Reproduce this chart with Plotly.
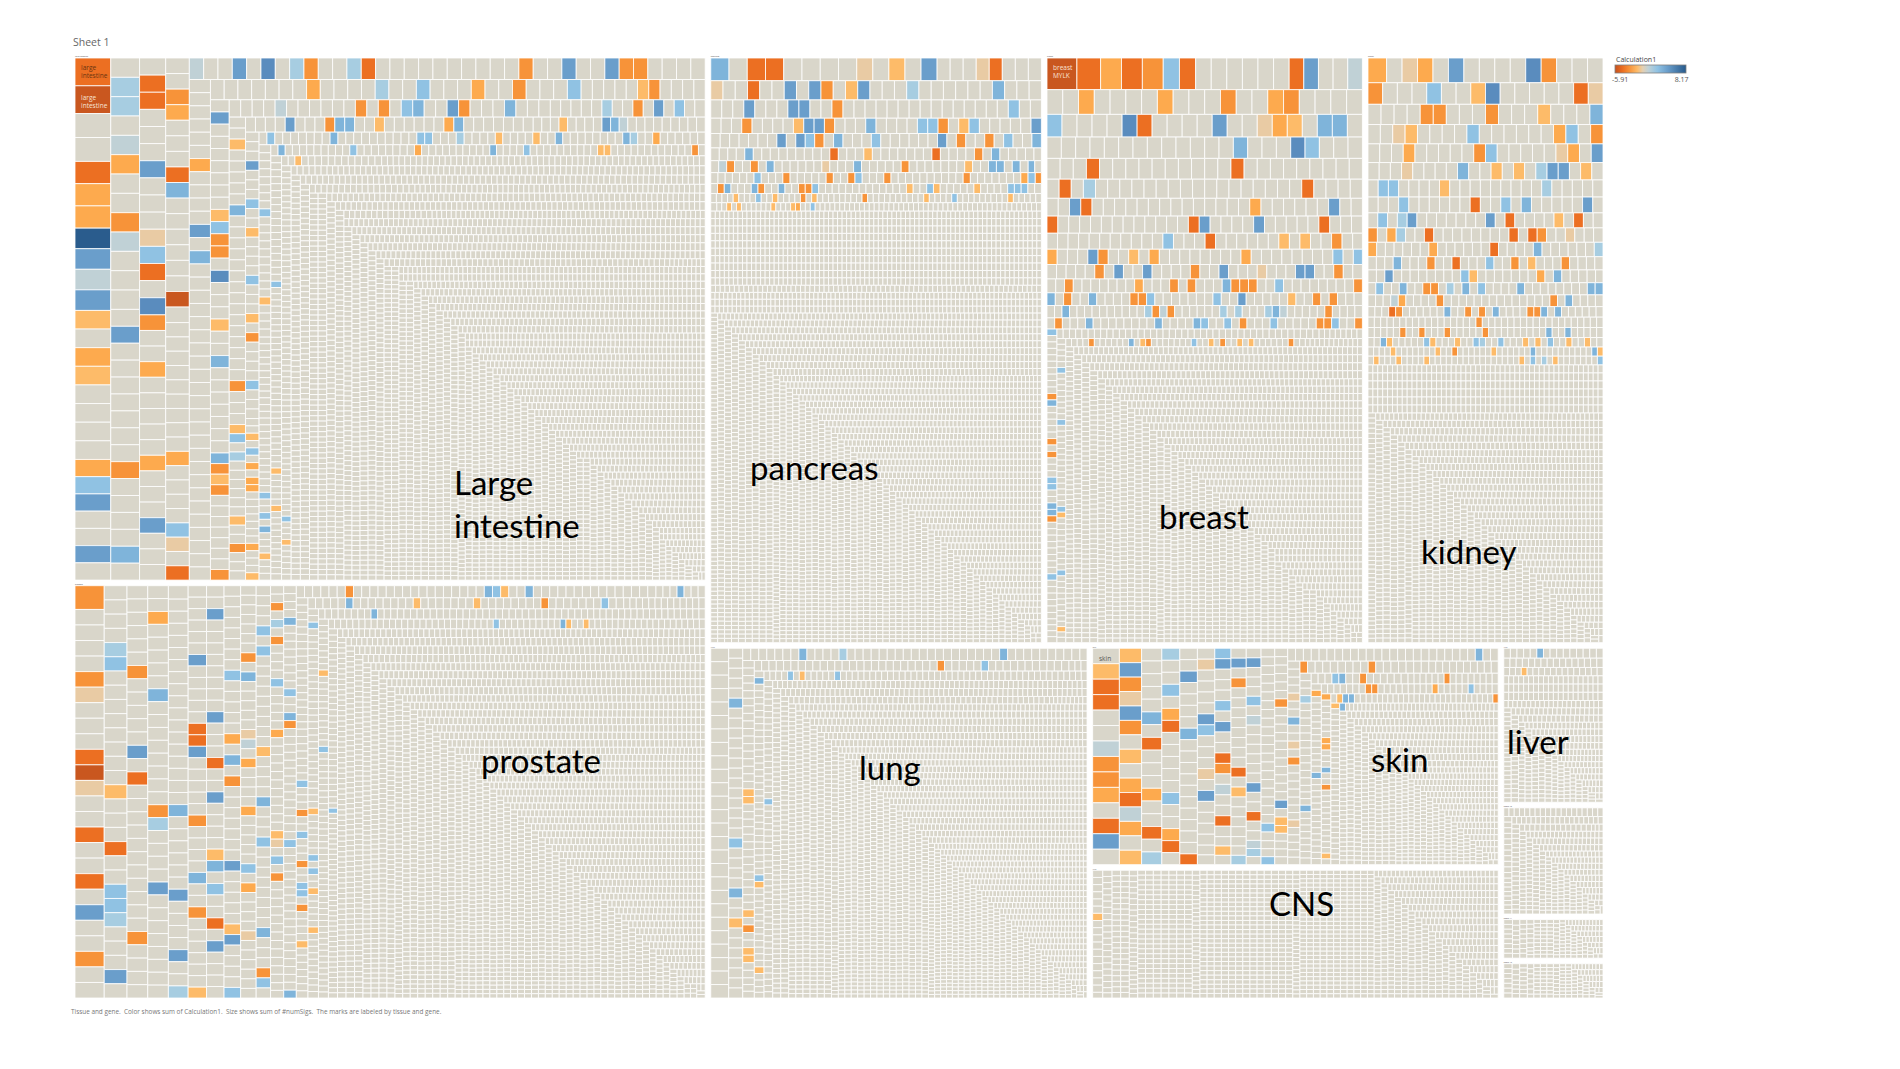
import re
import plotly.graph_objects as go

# Each entry: (numSigs of the genes in this run, colour code string).
# In a code string a number is a run of neutral genes, a letter is one coloured gene.
large_intestine = [
    (100, "ba"), (86, "2"), (80, "bdd"), (74, "mkgk"), (67, "e1de4"), (62, "dik2k1"),
    (56, "1hh1gd2cg3"), (49, "1k7c4j1"), (45, "1bb3k3fib1l"), (41, "c2d5d3k3"),
    (37, "2cd3bj6a1"), (34, "9d4if1b"), (31, "g2k1l1hc2hb10c2k2kcc4"),
    (28, "6d4k1j31d4h2i3d2c3i"), (23, "5ec5k7eicc1l3e2j7"), (20, "jcec7c4g6c1c1ij2kc3j3"),
    (18, "5h2c1k1i4e5j15c3"), (15, "ei1h6e2c7k3cjj2e6dj7"), (13, "3e4kjg12k3i2e4i3e1c4i3"),
    (10, "2e1i1d1dd7d3e1i7j10ii3h3"), (9.5, "1e4e2j8jh2d14i10e4"), (8, "23i2i1j3e4j9i8d2"),
    (7.5, "8j4i10ee12c19"), (6.7, "i29e5e13e12"), (5.8, "66"), (5.6, "50i3e12"),
    (5.2, "300"), (4.6, "500"), (4, "800"), (3.4, "1200"), (3, "1938"), (2.6, "100"),
]
prostate = [
    (70, "c"), (45.8, "4cf3baf2b2b1k2c2"), (32.7, "4hi8e3b2iih3k1"), (27.8, "6c5k1b11c4"),
    (26.8, "2d5j8ch4k9"), (24.1, "17j6k4k2h"), (21.3, "6k5bbk5c4j2c6"),
    (20.2, "e2k8k3b2k4ej1i2b1k4"), (17.7, "8i5d1j1c7k5ek4i"), (15, "7c1j5fg1d4d5i1d4f6"),
    (14.6, "4i1i9e4j3i8j3ci1"), (11.2, "2c1h1c4i5d11ef1i1c12"), (10.1, "6j8i2jc14i15"),
    (10, "3j6c16jie2j15"), (8.6, "3j28i3c2i3c2ii1c4e"), (8.4, "12j8e7e8c7i2"),
    (7, "15i27e6i1i2e1"), (6.8, "4e18j31"), (6.4, "28e11i17"), (6, "50i9"),
    (5.7, "1je2e48"), (4.7, "1i62"),
    (4.5, "400"), (4, "600"), (3.5, "900"), (3, "2071"),
]
pancreas = [
    (42, "j1bb4"), (37, "f1e1k"), (30, "3fb3"), (23.8, "f2b2k1kc1ek3h6j3"),
    (20.4, "3k3kk2c15i2"), (16, "3c4ekkc3j4iic1ei5k"), (13.8, "7k1kic1j3i6k1c2c1i2j"),
    (11, "4j9b3e7b4c1j4"), (9.6, "2gc2c1j6f3j5c7e2jj1j1"), (8, "j7i3c5c2ci3c10c7di"),
    (6.8, "c1cj3jc2j2cci13e2ie5e4iii2"), (5.2, "4e3i2e4c1e8c10e4i9e6"), (4.2, "2e1e6e3ed2i46"),
    (3.4, "800"), (3, "1500"), (2.6, "2779"),
]
breast = [
    (96, "a"), (76, "b"), (67, "dbc"), (52, "ib"), (50, "6"), (47, "bk2g"),
    (39.5, "2d4d3c2dc4"), (34.5, "i4lb4k2fde1jj1"), (31, "13j3li3"), (27.7, "3b10b9"),
    (23.5, "1b1h17b4"), (20.3, "2kb14d6k2"), (18.9, "b12bk4k5b3"), (17.1, "11i3b6e1e2c1"),
    (15.8, "1d3kc2e1d8d8i1"), (14, "i5c1k2k4c2k3f3kk2c2"), (12.3, "2c7d3c1c3jccc2i8c"),
    (10.7, "j1c2j4cci7i2k5e2c1c3"), (9.4, "2j10hcgc6h1h3hjg5c4"),
    (8.7, "1c3j8j4ji2i1c3i5cci2c"), (6.5, "i9cj5c1c3ii2jjc8i6"), (6, "46"),
    (5.2, "13i8i14ie9i6"), (4.8, "3e6c6j1ec7i2e1c2e1e6c2"),
    (4, "500"), (3.4, "800"), (3, "1406"),
]
kidney = [
    (47, "d"), (39, "1fd1k4lc3"), (32.3, "c3i2el5bf"), (26.9, "4cc3c3e3j"), (24.4, "2fe4i6di1c"),
    (22.4, "3d5ci5fd1k"), (19.8, "3f4j2e1e1hkk1e1"), (17.8, "1ii4e9h5"), (16.5, "3i6b2i1j5k1"),
    (15, "1i1hk7k1b4e1b2"), (13.8, "c1dh2b8b1bc2f3"), (12.8, "d6d6b4j6h"),
    (11.3, "3j3c2b3i2c1e3c3"), (11, "3k8ie7d1j4"), (9.7, "2i2j2cc1h1j1i4j8jj"),
    (9.1, "3gd4c14c1j4"), (7.4, "3bc6j2c1c1j4ccj1j6"), (6.7, "17c19"), (6.5, "5c2c3c5c9j2j5"),
    (6, "2je5ie3e2ih2i3e1e1i2e2e2"), (5.2, "4e7e2c6e6j10je"), (5, "1e3e4e16e1i1h1e7i"),
    (4, "300"), (3.4, "500"), (3, "1251"),
]
lung = [
    (24.5, "26"), (14.3, "5j13i4j2e7"), (10, "7j4h19j9"), (8.9, "18ee14e1c2ee2"),
    (7.9, "28c5i11"), (6.5, "4j29ie12e2"), (5.6, "6i1e5i38"), (5.5, "23i31"),
    (4, "300"), (3.2, "800"), (2.6, "1500"), (2.2, "1131"),
]
skin = [
    (42.4, "1ebb2gccd1bk1"), (32.9, "ekcfkc1e1dbgd1e"), (26.4, "5j1b3d2b1h"),
    (22.2, "h2i1db5i2db1"), (20.6, "2k4j10"), (19.5, "b1f4ki3f1k4"),
    (17.4, "2ik3i1k2bc1g2b1"), (15.5, "1e2k1c8b1e4"), (14.6, "2h1k3i1g6k2b2"),
    (12.3, "gh21i1"), (11.2, "2i6c11k1e"), (10.4, "e24"), (10.1, "4j6f2j2f1c5"),
    (9.4, "2f5c8c7"), (8.6, "13h11"), (7.6, "3j11ij2c6"), (6.6, "6c9d10"),
    (6.4, "2j21cc1"), (6.1, "8d5i4d6dd"), (5.6, "3j2c11e2ejj3"), (5, "23ce3"), (4.8, "26j"),
    (3.4, "200"), (3, "300"), (2.4, "434"),
]
cns = [(7.6, "6e10"), (6, "20"), (5, "60"), (4, "200"), (3.4, "400"), (3, "899")]
liver = [(7.1, "5j9"), (6.2, "16"), (5.3, "3e13"), (4.4, "60"), (3.6, "100"), (3, "150"), (2.5, "112")]
tissue_a = [(5, "30"), (4, "60"), (3, "120"), (2.5, "162")]
tissue_b = [(5, "10"), (4, "20"), (3, "40"), (2.4, "86")]
tissue_c = [(5, "10"), (4, "18"), (3, "35"), (2.5, "74")]

tissue_names = ["large intestine", "prostate", "pancreas", "breast", "kidney", "lung",
                "skin", "CNS", "liver", "tissue 10", "tissue 11", "tissue 12"]
tissue_runs = [large_intestine, prostate, pancreas, breast, kidney, lung,
               skin, cns, liver, tissue_a, tissue_b, tissue_c]

# Colour of each code, in Calculation1 order from most negative to most positive
code_colors = {"a": "#c9571f", "b": "#ec6f22", "c": "#f79339", "d": "#fdaa4e", "e": "#fdbb69",
               "f": "#e9cba4", ".": "#d9d6ca", "g": "#c0d1d6", "h": "#a7cde1", "i": "#90c2e3",
               "j": "#7fb4da", "k": "#6a9ecb", "l": "#5a8cbe", "m": "#2a5c8d"}
calc_min, calc_max = -5.91, 8.17

ids, parents, values, colors = [], [], [], []
for name, runs in zip(tissue_names, tissue_runs):
    ids.append(name); parents.append(""); values.append(0); colors.append("#ffffff")
    n = 0
    for size, code in runs:
        for tok in re.findall(r"\d+|[a-m]", code):
            letters = "." * int(tok) if tok.isdigit() else tok
            for ch in letters:
                n += 1
                ids.append(f"{name} {n}"); parents.append(name)
                values.append(size); colors.append(code_colors[ch])

W, H = 1900, 1069
PAD = 2.8
L, R, T, B = 75, 1603, 58, 998
px = lambda x: x / W
py = lambda y: 1 - y / H

fig = go.Figure()
fig.add_trace(go.Treemap(
    ids=ids, labels=ids, parents=parents, values=values, branchvalues="remainder",
    sort=False, textinfo="none", hoverinfo="skip",
    tiling=dict(packing="squarify", squarifyratio=1.618, pad=0),
    pathbar=dict(visible=False),
    marker=dict(colors=colors, depthfade=False,
                line=dict(color="#ffffff", width=0.8),
                pad=dict(t=PAD, l=PAD, r=PAD, b=PAD)),
    domain=dict(x=[px(L - 2 * PAD), px(R + 2 * PAD)], y=[py(B + 2 * PAD), py(T - 2 * PAD)]),
))

scale_pts = [(-5.91, "#c4511e"), (-4.5, "#ea6c20"), (-3.2, "#f68f36"), (-1.5, "#fdbb69"),
             (-0.4, "#e3d0b4"), (0.7, "#c0d1d6"), (2.5, "#90c2e3"), (4.5, "#6a9ecb"), (8.17, "#275a8c")]
fig.add_trace(go.Scatter(
    x=[None], y=[None], mode="markers", hoverinfo="skip", showlegend=False,
    marker=dict(color=[0], cmin=calc_min, cmax=calc_max, showscale=True,
                colorscale=[[(v - calc_min) / (calc_max - calc_min), c] for v, c in scale_pts],
                colorbar=dict(orientation="h", x=px(1615), xanchor="left", y=py(65), yanchor="top",
                              lenmode="pixels", len=71, thicknessmode="pixels", thickness=8,
                              xpad=0, ypad=0, outlinecolor="#7f7f7f", outlinewidth=0.8,
                              tickmode="array", tickvals=[-4.9, 7.3], ticktext=["-5.91", "8.17"],
                              ticks="", tickfont=dict(family="Open Sans", size=7, color="#555555"))),
))

big = dict(family="Lato", size=33, color="#000000")
big_labels = [("Large<br>intestine", 452, 503), ("pancreas", 748, 467), ("breast", 1157, 516),
              ("kidney", 1419, 551), ("prostate", 479, 760), ("lung", 857, 767), ("skin", 1369, 759),
              ("CNS", 1267, 903), ("liver", 1505, 741)]
anns = [dict(text=t, x=px(x), y=py(y), xref="paper", yref="paper", xanchor="left", yanchor="middle",
             showarrow=False, align="left", font=big) for t, x, y in big_labels]
small_labels = [("large<br>intestine", 79, 71.5, "#6b3510"), ("large<br>intestine", 79, 101, "#f7e3d3"),
                ("breast<br>MYLK", 1051, 71, "#fbe3d3"), ("skin", 1097, 658, "#555555")]
anns += [dict(text=t, x=px(x), y=py(y), xref="paper", yref="paper", xanchor="left", yanchor="middle",
              showarrow=False, align="left", font=dict(family="Open Sans", size=6.5, color=c))
         for t, x, y, c in small_labels]
anns.append(dict(text="Calculation1", x=px(1614), y=py(60), xref="paper", yref="paper", xanchor="left",
                 yanchor="middle", showarrow=False, font=dict(family="Open Sans", size=7, color="#444444")))
anns.append(dict(text="Sheet 1", x=px(71), y=py(42), xref="paper", yref="paper", xanchor="left",
                 yanchor="middle", showarrow=False, font=dict(family="Open Sans", size=10.5, color="#666666")))
anns.append(dict(text="Tissue and gene.  Color shows sum of Calculation1.  Size shows sum of #numSigs.  "
                      "The marks are labeled by tissue and gene.",
                 x=px(69), y=py(1011), xref="paper", yref="paper", xanchor="left", yanchor="middle",
                 showarrow=False, font=dict(family="Open Sans", size=6.4, color="#777777")))

fig.update_layout(
    width=W, height=H, paper_bgcolor="white", plot_bgcolor="white",
    margin=dict(l=0, r=0, t=0, b=0, autoexpand=False),
    xaxis=dict(visible=False), yaxis=dict(visible=False),
    annotations=anns,
)
fig.write_html("out.html", config={"displayModeBar": False},
               post_script="document.body.style.margin='0';")
